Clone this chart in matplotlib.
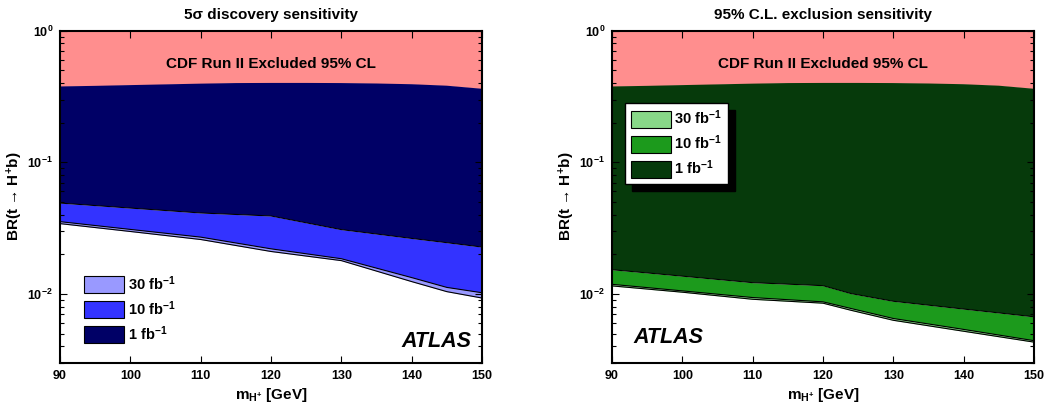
import numpy as np
import matplotlib
matplotlib.use("Agg")
import matplotlib.pyplot as plt
from matplotlib.patches import Patch
from matplotlib.ticker import LogLocator, FixedLocator, NullLocator

plt.rcParams['font.family'] = ['Liberation Sans', 'DejaVu Sans']
plt.rcParams['font.weight'] = 'bold'
plt.rcParams['mathtext.fontset'] = 'custom'
plt.rcParams['mathtext.rm'] = 'Liberation Sans:bold'
plt.rcParams['mathtext.it'] = 'Liberation Sans:bold:italic'
plt.rcParams['mathtext.bf'] = 'Liberation Sans:bold'
plt.rcParams['mathtext.sf'] = 'Liberation Sans:bold'
plt.rcParams['mathtext.default'] = 'rm'

# ---------------- data ----------------
# CDF Run II excluded region lower boundary
cdf_mass = [90, 95, 100, 105, 110, 115, 120, 125, 130, 135, 140, 145, 150]
cdf_br = [0.377, 0.381, 0.386, 0.391, 0.396, 0.400, 0.401, 0.401, 0.400, 0.397, 0.392, 0.382, 0.362]

# 5 sigma discovery sensitivity (lower edge of each band)
disc_mass = [90, 100, 110, 120, 130, 140, 145, 150]
disc_1fb = [0.0490, 0.0449, 0.0412, 0.0391, 0.0308, 0.0264, 0.0245, 0.0227]
disc_10fb = [0.0354, 0.0309, 0.0270, 0.0220, 0.0185, 0.0133, 0.0112, 0.0102]
disc_30fb = [0.0342, 0.0298, 0.0259, 0.0210, 0.0179, 0.0124, 0.0104, 0.0093]

# 95% CL exclusion sensitivity (lower edge of each band)
excl_mass = [90, 100, 110, 120, 124, 130, 140, 150]
excl_1fb = [0.01527, 0.01364, 0.01217, 0.01155, 0.01005, 0.00879, 0.00767, 0.00670]
excl_10fb = [0.01182, 0.01054, 0.00938, 0.00870, 0.00774, 0.00650, 0.00537, 0.00441]
excl_30fb = [0.01150, 0.01030, 0.00910, 0.00850, 0.00750, 0.00630, 0.00520, 0.00430]

lumi_labels = ['30 fb$^{-1}$', '10 fb$^{-1}$', '1 fb$^{-1}$']
titles = ['5\u03c3 discovery sensitivity', '95% C.L. exclusion sensitivity']

pink = '#ff8e8e'
blues = ['#9999ff', '#3333ff', '#000066']
greens = ['#88d888', '#1c9a1c', '#063a0b']

W, H = 1051, 409
fig = plt.figure(figsize=(W / 100, H / 100), dpi=100)

def px_axes(x0, x1, y0, y1):
    return fig.add_axes([x0 / W, 1 - y1 / H, (x1 - x0) / W, (y1 - y0) / H])

axL = px_axes(60, 482, 30.7, 362.7)
axR = px_axes(612, 1034, 30.7, 362.7)

def draw_panel(ax, m, b1, b10, b30, cols, title):
    m = np.asarray(m)
    cm = np.asarray(cdf_mass)
    cb = np.asarray(cdf_br)
    ax.fill_between(cm, cb, 1.0, color=pink, lw=0)
    ax.fill(np.concatenate([m, cm[::-1]]), np.concatenate([b1, cb[::-1]]),
            color=cols[2], lw=0)
    ax.fill_between(m, b10, b1, color=cols[1], lw=0)
    ax.fill_between(m, b30, b10, color=cols[0], lw=0)
    for b in (b1, b10, b30):
        ax.plot(m, b, color='black', lw=0.8)
    ax.set_yscale('log')
    ax.set_xlim(90, 150)
    ax.set_ylim(3e-3, 1.0)
    ax.xaxis.set_major_locator(FixedLocator([90, 100, 110, 120, 130, 140, 150]))
    ax.xaxis.set_minor_locator(NullLocator())
    ax.yaxis.set_major_locator(LogLocator(base=10, numticks=10))
    ax.yaxis.set_minor_locator(LogLocator(base=10, subs=np.arange(2, 10), numticks=10))
    ax.tick_params(which='both', direction='in', top=True, right=True, width=0.8)
    ax.tick_params(axis='x', labelsize=9, pad=5)
    ax.tick_params(axis='y', labelsize=9, pad=5)
    ax.tick_params(which='major', length=5)
    ax.tick_params(which='minor', length=3)
    for s in ax.spines.values():
        s.set_linewidth(1.5)
    for lab in ax.get_xticklabels() + ax.get_yticklabels():
        lab.set_fontweight('bold')
    ax.set_title(title, fontsize=11, fontweight='bold', pad=8.5)
    ax.set_xlabel('m$_{H^{+}}$ [GeV]', fontsize=11, fontweight='bold', labelpad=3)
    ax.set_ylabel('BR(t \u2192 H$^{+}$b)', fontsize=11, fontweight='bold', labelpad=2)
    ax.text(0.5, 0.901, 'CDF Run II Excluded 95% CL',
            transform=ax.transAxes, ha='center', va='center', fontsize=11,
            fontweight='bold')

draw_panel(axL, disc_mass, disc_1fb, disc_10fb, disc_30fb, blues, titles[0])
draw_panel(axR, excl_mass, excl_1fb, excl_10fb, excl_30fb, greens, titles[1])

def handles(cols):
    return [Patch(facecolor=c, edgecolor='black', lw=0.8) for c in cols]

leg_kw = dict(handlelength=2.74, handleheight=1.37, labelspacing=0.41,
              handletextpad=0.25, prop={'size': 10.5, 'weight': 'bold'})

legL = axL.legend(handles(blues), lumi_labels, loc='upper left',
                  bbox_to_anchor=((84.3 - 60) / 422, (362.7 - 274) / 332),
                  frameon=False, borderpad=0, borderaxespad=0, **leg_kw)

legR = axR.legend(handles(greens), lumi_labels, loc='upper left',
                  bbox_to_anchor=((625 - 612) / 422, (362.7 - 103) / 332),
                  frameon=True, fancybox=False, borderpad=0.4, borderaxespad=0,
                  shadow={'ox': 5, 'oy': -5, 'facecolor': 'black',
                          'edgecolor': 'black', 'alpha': 1}, **leg_kw)
legR.get_frame().set_edgecolor('black')
legR.get_frame().set_linewidth(1.0)
legR.get_frame().set_alpha(1)

axL.text(0.976, 0.032, 'ATLAS', transform=axL.transAxes, ha='right', va='bottom',
         fontsize=15.5, fontweight='bold', fontstyle='italic')
axR.text(0.05, 0.044, 'ATLAS', transform=axR.transAxes, ha='left', va='bottom',
         fontsize=15.5, fontweight='bold', fontstyle='italic')

fig.savefig('out.png', dpi=100)
